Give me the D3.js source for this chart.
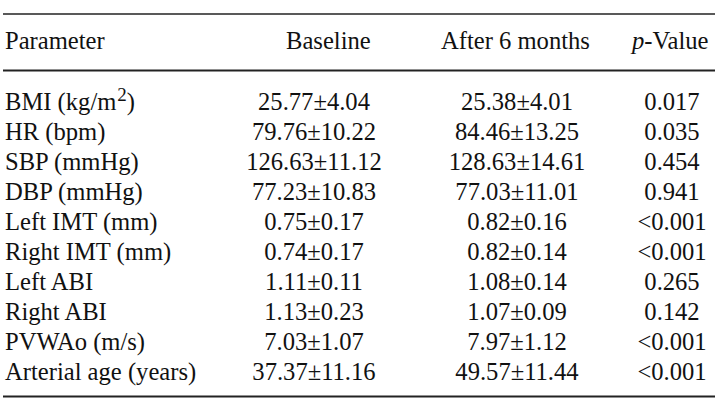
<!DOCTYPE html>
<html>
<head>
<meta charset="utf-8">
<script src="https://cdn.jsdelivr.net/npm/d3@7"></script>
<style>
  html, body { margin: 0; padding: 0; background: #fff; }
  svg text { font-family: "Liberation Serif", "Times New Roman", serif; fill: #111; }
</style>
</head>
<body>
<svg id="chart" width="719" height="414"></svg>
<script>
// ---- data ----
const parameters = ["BMI (kg/m", "HR (bpm)", "SBP (mmHg)", "DBP (mmHg)", "Left IMT (mm)",
  "Right IMT (mm)", "Left ABI", "Right ABI", "PVWAo (m/s)", "Arterial age (years)"];
const baselineMean = [25.77, 79.76, 126.63, 77.23, 0.75, 0.74, 1.11, 1.13, 7.03, 37.37];
const baselineSD   = [4.04, 10.22, 11.12, 10.83, 0.17, 0.17, 0.11, 0.23, 1.07, 11.16];
const afterMean    = [25.38, 84.46, 128.63, 77.03, 0.82, 0.82, 1.08, 1.07, 7.97, 49.57];
const afterSD      = [4.01, 13.25, 14.61, 11.01, 0.16, 0.14, 0.14, 0.09, 1.12, 11.44];
const pValues      = ["0.017", "0.035", "0.454", "0.941", "<0.001", "<0.001", "0.265", "0.142", "<0.001", "<0.001"];
const headers      = ["Parameter", "Baseline", "After 6 months", "p-Value"];

// ---- layout ----
const svg = d3.select("#chart");
const fs = 24.6;
const f2 = d3.format(".2f");

const y = d3.scalePoint().domain(d3.range(parameters.length)).range([110, 380]);

// rules
const rules = [{y: 14, w: 1.6}, {y: 70.5, w: 2.2}, {y: 396.5, w: 2}];
svg.selectAll("line.rule").data(rules).join("line")
  .attr("class", "rule")
  .attr("x1", 3).attr("x2", 715)
  .attr("y1", d => d.y).attr("y2", d => d.y)
  .attr("stroke", "#222").attr("stroke-width", d => d.w);

// headers
const hx = [5, 286, 441, 632];
const hg = svg.append("g").attr("font-size", fs);
hg.append("text").attr("x", hx[0]).attr("y", 49).text(headers[0]);
hg.append("text").attr("x", hx[1]).attr("y", 49).text(headers[1]);
hg.append("text").attr("x", hx[2]).attr("y", 49).text(headers[2]);
const pv = hg.append("text").attr("x", hx[3]).attr("y", 49);
pv.append("tspan").attr("font-style", "italic").text(headers[3].slice(0, 1));
pv.append("tspan").text(headers[3].slice(1));

// rows
const rows = svg.append("g").attr("font-size", fs)
  .selectAll("g.row").data(parameters).join("g")
  .attr("class", "row")
  .attr("transform", (d, i) => `translate(0,${y(i)})`);

rows.append("text").attr("x", 5)
  .each(function(d, i) {
    const t = d3.select(this);
    t.append("tspan").text(d);
    if (i === 0) {
      t.append("tspan").attr("dx", 1).attr("dy", -9).attr("font-size", 19).text("2");
      t.append("tspan").attr("dy", 9).text(")");
    }
  });

rows.append("text").attr("x", 314).attr("text-anchor", "middle")
  .text((d, i) => f2(baselineMean[i]) + "\u00b1" + f2(baselineSD[i]));
rows.append("text").attr("x", 517).attr("text-anchor", "middle")
  .text((d, i) => f2(afterMean[i]) + "\u00b1" + f2(afterSD[i]));
rows.append("text").attr("x", 672).attr("text-anchor", "middle")
  .text((d, i) => pValues[i]);
</script>
</body>
</html>
